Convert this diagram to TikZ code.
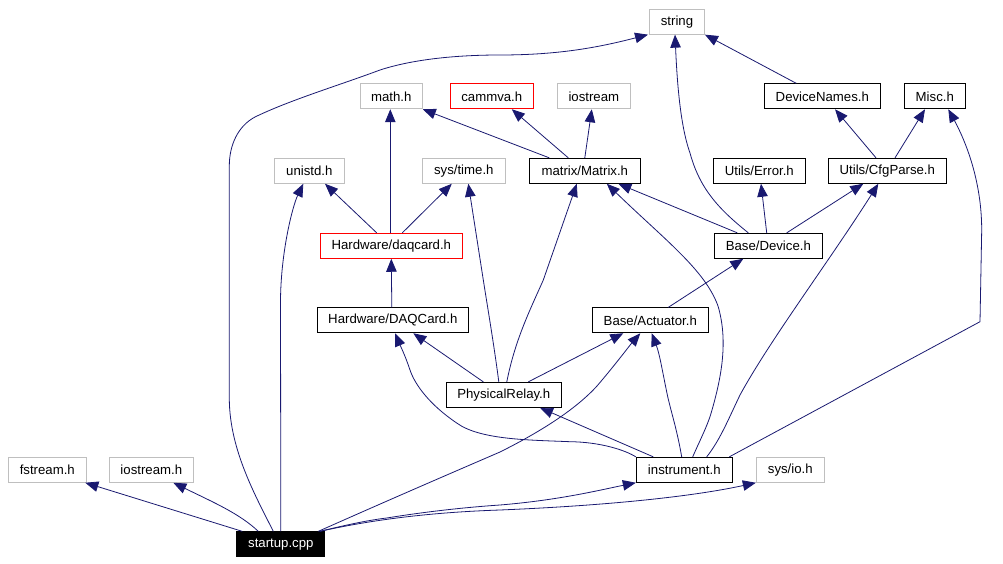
\documentclass[tikz,border=0pt]{standalone}
\usepackage{fontspec}
\setmainfont{Liberation Sans}
\usetikzlibrary{arrows.meta}
\definecolor{edgec}{HTML}{191970}
\definecolor{grayb}{HTML}{BFBFBF}
\definecolor{redb}{HTML}{FF0000}
\tikzset{
  box/.style={draw=black, rectangle, inner sep=0pt, minimum height=25pt, line width=0.9pt, font=\fontsize{13.2}{15}\selectfont, fill=white},
  extbox/.style={box, draw=grayb},
  redbox/.style={box, draw=redb},
  rootbox/.style={box, fill=black, text=white},
  dep/.style={draw=edgec, line width=0.8pt, -{Triangle[length=13pt,width=10.5pt]}, color=edgec},
}
\begin{document}
\begin{tikzpicture}[x=1pt,y=-1pt]
\useasboundingbox (0,0) rectangle (1003,564);
% row 1
\node[extbox, minimum width=55pt] (string) at (677,21.7) {string};
% row 2
\node[extbox, minimum width=62pt] (math) at (391.3,96.3) {math.h};
\node[redbox, minimum width=83pt] (cammva) at (491.8,96.3) {cammva.h};
\node[extbox, minimum width=73pt] (iostream) at (593.8,96.3) {iostream};
\node[box, minimum width=116pt] (devnames) at (822.3,96.3) {DeviceNames.h};
\node[box, minimum width=61pt] (misc) at (934.8,96.3) {Misc.h};
% row 3
\node[extbox, minimum width=70pt] (unistd) at (309.3,170.8) {unistd.h};
\node[extbox, minimum width=83pt] (systime) at (463.8,170.8) {sys/time.h};
\node[box, minimum width=111pt] (matrix) at (584.8,170.8) {matrix/Matrix.h};
\node[box, minimum width=92pt] (error) at (759.3,170.8) {Utils/Error.h};
\node[box, minimum width=118pt] (cfg) at (887.3,170.8) {Utils/CfgParse.h};
% row 4
\node[redbox, minimum width=142pt] (daqcard) at (391.3,245.8) {Hardware/daqcard.h};
\node[box, minimum width=108pt] (device) at (768.3,245.8) {Base/Device.h};
% row 5
\node[box, minimum width=151pt] (DAQCard) at (392.8,320.3) {Hardware/DAQCard.h};
\node[box, minimum width=116pt] (actuator) at (650.3,320.3) {Base/Actuator.h};
% row 6
\node[box, minimum width=115pt] (relay) at (503.8,394.8) {PhysicalRelay.h};
% row 7
\node[extbox, minimum width=78pt] (fstream) at (47.3,469.8) {fstream.h};
\node[extbox, minimum width=84pt] (iostreamh) at (151.3,469.8) {iostream.h};
\node[box, minimum width=96pt] (instrument) at (684.3,469.8) {instrument.h};
\node[extbox, minimum width=68pt] (sysio) at (790.3,469.8) {sys/io.h};
% row 8
\node[rootbox, minimum width=88pt] (startup) at (280.8,544.3) {startup.cpp};

% startup.cpp
\draw[dep] ([xshift=-38.5pt]startup.north) -- ([xshift=38pt]fstream.south);
\draw[dep] ([xshift=-22.5pt]startup.north) .. controls (240,514) and (215,503) .. ([xshift=22pt]iostreamh.south);
\draw[dep] (startup.north) -- (280.5,300) .. controls (281,250) and (293,205) .. ([xshift=-6pt]unistd.south);
\draw[dep] ([xshift=-7.5pt]startup.north) .. controls (255,495) and (230,450) .. (229.3,400) -- (229.3,166)
  .. controls (229.3,145) and (238,126) .. (255,117) .. controls (290,100) and (340,85) .. (380,70)
  .. controls (420,57) and (470,55) .. (500,55) .. controls (560,55) and (600,47) .. ([xshift=-1pt]string.south west);
\draw[dep] ([xshift=37.5pt]startup.north) .. controls (400,495) and (470,465) .. (500,452)
  .. controls (540,432) and (575,410) .. (597,386) .. controls (615,365) and (630,345) .. ([xshift=-10pt]actuator.south);
\draw[dep] ([xshift=39pt]startup.north) .. controls (350,524) and (370,520) .. (386.7,518)
  .. controls (430,511) and (470,507) .. (500,505) .. controls (560,500) and (600,490) .. (instrument.south west);
\draw[dep] ([xshift=39pt]startup.north) .. controls (380,518) and (440,512) .. (500,510)
  .. controls (620,505) and (700,495) .. (sysio.south west);

% daqcard
\draw[dep] ([xshift=-1pt]daqcard.north) -- ([xshift=-1pt]math.south);
\draw[dep] ([xshift=-14.6pt]daqcard.north) -- ([xshift=15.7pt]unistd.south);
\draw[dep] ([xshift=11pt]daqcard.north) -- ([xshift=-12pt]systime.south);
\draw[dep] ([xshift=-1pt]DAQCard.north) -- ([xshift=0pt]daqcard.south);

% PhysicalRelay
\draw[dep] ([xshift=-20.5pt]relay.north) -- ([xshift=20.5pt]DAQCard.south);
\draw[dep] ([xshift=-5pt]relay.north) .. controls (494,345) and (488,310) .. (483.3,280) -- ([xshift=4.5pt]systime.south);
\draw[dep] ([xshift=3pt]relay.north) .. controls (515,340) and (530,310) .. (543.3,280) -- ([xshift=-8pt]matrix.south);
\draw[dep] ([xshift=24.5pt]relay.north) -- ([xshift=-27pt]actuator.south);

% Matrix
\draw[dep] ([xshift=-35.5pt]matrix.north) -- (math.south east);
\draw[dep] ([xshift=-16.5pt]matrix.north) -- ([xshift=20pt]cammva.south);
\draw[dep] (matrix.north) -- ([xshift=-2pt]iostream.south);

% Device
\draw[dep] ([xshift=-20pt]device.north) .. controls (720,210) and (700,190) .. (690,153)
  .. controls (680,125) and (677,80) .. ([xshift=-2pt]string.south);
\draw[dep] ([xshift=-31pt]device.north) -- ([xshift=33.5pt]matrix.south);
\draw[dep] ([xshift=-1.6pt]device.north) -- ([xshift=1.7pt]error.south);
\draw[dep] ([xshift=18.4pt]device.north) -- ([xshift=-24pt]cfg.south);

% DeviceNames, CfgParse
\draw[dep] ([xshift=-26pt]devnames.north) -- (string.south east);
\draw[dep] ([xshift=-11.3pt]cfg.north) -- ([xshift=12.7pt]devnames.south);
\draw[dep] ([xshift=7.7pt]cfg.north) -- ([xshift=-9.8pt]misc.south);

% Actuator
\draw[dep] ([xshift=18pt]actuator.north) -- ([xshift=-25pt]device.south);

% instrument
\draw[dep] ([xshift=-31pt]instrument.north) -- ([xshift=36.2pt]relay.south);
\draw[dep] ([xshift=-2.6pt]instrument.north) .. controls (677,430) and (672,415) .. (668,398)
  .. controls (663,375) and (660,355) .. ([xshift=1.4pt]actuator.south);
\draw[dep] ([xshift=8.4pt]instrument.north) .. controls (700,440) and (708,425) .. (712,410)
  .. controls (722,375) and (728,340) .. (718,306)
  .. controls (705,270) and (665,240) .. ([xshift=22pt]matrix.south);
\draw[dep] ([xshift=22.4pt]instrument.north) .. controls (720,440) and (728,420) .. (740,395)
  .. controls (770,340) and (830,260) .. ([xshift=-9pt]cfg.south);
\draw[dep] ([xshift=45pt]instrument.north) -- (980,321.7) -- (981.7,230)
  .. controls (981.7,180) and (965,140) .. ([xshift=13.5pt]misc.south);
\draw[dep] (instrument.north west) .. controls (625,450) and (600,442) .. (570,441.7)
  .. controls (530,440) and (480,440) .. (456.7,423)
  .. controls (430,405) and (415,385) .. (410,370) .. controls (405,355) and (400,345) .. ([xshift=2.2pt]DAQCard.south);
\end{tikzpicture}
\end{document}
